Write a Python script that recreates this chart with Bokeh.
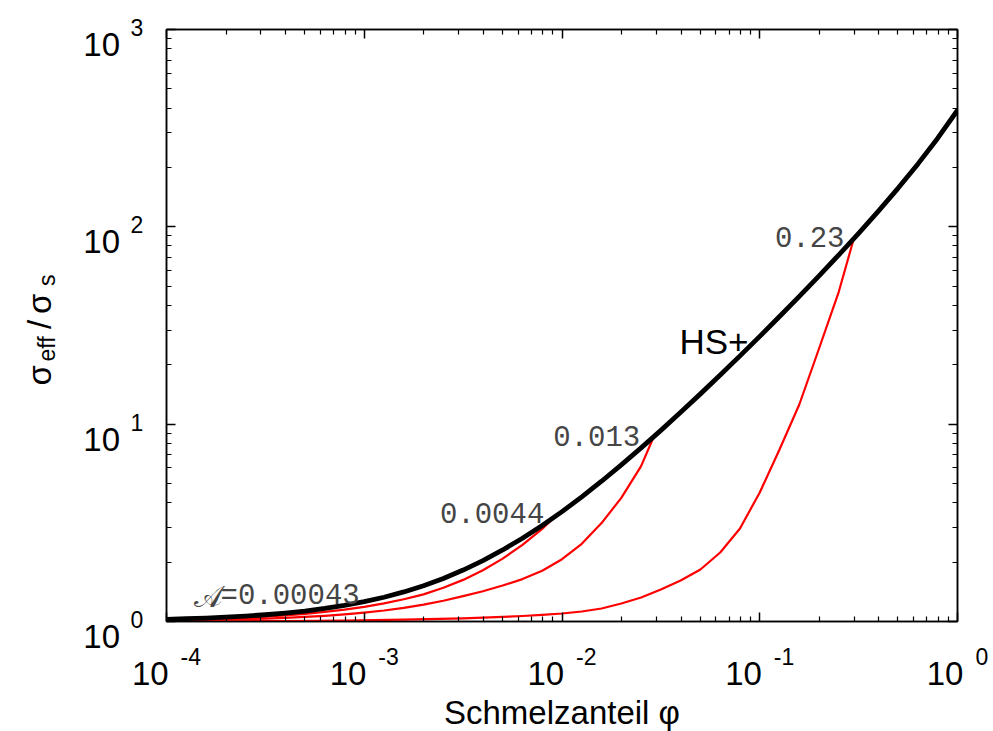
import math

from bokeh.plotting import figure
from bokeh.models import Range1d, LogAxis, FixedTicker, CustomJSTickFormatter, ColumnDataSource
from bokeh.core.properties import value
from bokeh.embed import file_html
from bokeh.resources import INLINE

# Hashin-Shtrikman upper bound (HS+): sigma_eff / sigma_s versus melt fraction phi
phi_hs = [1.0e-4, 1.259e-4, 1.585e-4, 1.995e-4, 2.512e-4, 3.162e-4, 3.981e-4, 5.012e-4, 6.310e-4, 7.943e-4,
          1.0e-3, 1.259e-3, 1.585e-3, 1.995e-3, 2.512e-3, 3.162e-3, 3.981e-3, 5.012e-3, 6.310e-3, 7.943e-3,
          1.0e-2, 1.259e-2, 1.585e-2, 1.995e-2, 2.512e-2, 3.162e-2, 3.981e-2, 5.012e-2, 6.310e-2, 7.943e-2,
          0.1, 0.1259, 0.1585, 0.1995, 0.2512, 0.3162, 0.3981, 0.5012, 0.6310, 0.7943, 1.0]
sigma_hs = [1.026, 1.033, 1.041, 1.052, 1.065, 1.082, 1.103, 1.130, 1.164, 1.206,
            1.260, 1.327, 1.412, 1.518, 1.653, 1.822, 2.035, 2.304, 2.642, 3.068,
            3.605, 4.283, 5.138, 6.215, 7.578, 9.298, 11.48, 14.24, 17.74, 22.19,
            27.86, 35.12, 44.45, 56.48, 72.17, 92.75, 120.1, 157.2, 208.4, 281.3, 390.0]

# curve for A = 0.0044, ending on HS+
phi_a2 = [1.0e-4, 1.259e-4, 1.585e-4, 1.995e-4, 2.512e-4, 3.162e-4, 3.981e-4, 5.012e-4, 6.310e-4, 7.943e-4,
          1.0e-3, 1.259e-3, 1.585e-3, 1.995e-3, 2.512e-3, 3.162e-3, 3.981e-3, 5.012e-3, 6.310e-3, 7.943e-3,
          9.1e-3]
sigma_a2 = [1.019, 1.024, 1.030, 1.037, 1.047, 1.059, 1.074, 1.094, 1.118, 1.148,
            1.187, 1.235, 1.297, 1.373, 1.483, 1.625, 1.818, 2.082, 2.445, 2.944,
            3.370]

# curve for A = 0.013
phi_a3 = [1.0e-4, 1.259e-4, 1.585e-4, 1.995e-4, 2.512e-4, 3.162e-4, 3.981e-4, 5.012e-4, 6.310e-4, 7.943e-4,
          1.0e-3, 1.259e-3, 1.585e-3, 1.995e-3, 2.512e-3, 3.162e-3, 3.981e-3, 5.012e-3, 6.310e-3, 7.943e-3,
          1.0e-2, 1.259e-2, 1.585e-2, 1.995e-2, 2.512e-2, 2.91e-2]
sigma_a3 = [1.011, 1.014, 1.017, 1.022, 1.027, 1.034, 1.043, 1.055, 1.069, 1.087,
            1.109, 1.137, 1.173, 1.218, 1.274, 1.345, 1.424, 1.522, 1.640, 1.807,
            2.068, 2.477, 3.152, 4.233, 6.131, 8.630]

# curve for A = 0.23
phi_a4 = [1.0e-4, 1.995e-4, 3.981e-4, 7.943e-4, 1.585e-3, 3.162e-3, 5.012e-3, 6.310e-3, 7.943e-3,
          1.0e-2, 1.259e-2, 1.585e-2, 1.995e-2, 2.512e-2, 3.162e-2, 3.981e-2, 5.012e-2, 6.310e-2, 7.943e-2,
          0.1, 0.1259, 0.1585, 0.1995, 0.2512, 0.299]
sigma_a4 = [1.001, 1.003, 1.006, 1.012, 1.022, 1.038, 1.055, 1.066, 1.080,
            1.098, 1.124, 1.164, 1.234, 1.323, 1.453, 1.614, 1.834, 2.237, 2.961,
            4.506, 7.44, 12.58, 24.18, 47.0, 87.21]

curve_names = ["0.00043", "0.0044", "0.013", "0.23"]
x_exponents = [-4, -3, -2, -1, 0]
y_exponents = [0, 1, 2, 3]

SANS = "Liberation Sans"
MONO = "Liberation Mono"
BASE = 33      # px, mantissa "10" of tick labels
EXP = 23       # px, exponents
RED = "#ff0000"
GREY = "#454545"

W, H = 993, 731
FL, FR, FT, FB = 166, 957, 29, 621

p = figure(width=W, height=H, x_axis_type="log", y_axis_type="log",
           x_range=Range1d(1e-4, 1.0), y_range=Range1d(1.0, 1000.0),
           output_backend="svg", toolbar_location=None,
           min_border_left=FL, min_border_right=W - FR, min_border_top=FT, min_border_bottom=H - FB,
           background_fill_color="white", border_fill_color="white")
p.xgrid.visible = False
p.ygrid.visible = False
p.outline_line_color = "black"
p.outline_line_width = 1.5

p.add_layout(LogAxis(), "above")
p.add_layout(LogAxis(), "right")

x_major = [10.0 ** e for e in x_exponents]
x_minor = [m * 10.0 ** e for e in x_exponents[:-1] for m in range(2, 10)]
y_major = [10.0 ** e for e in y_exponents]
y_minor = [m * 10.0 ** e for e in y_exponents[:-1] for m in range(2, 10)]

for ax in p.xaxis:
    ax.ticker = FixedTicker(ticks=x_major, minor_ticks=x_minor)
for ax in p.yaxis:
    ax.ticker = FixedTicker(ticks=y_major, minor_ticks=y_minor)
for ax in list(p.xaxis) + list(p.yaxis):
    ax.formatter = CustomJSTickFormatter(code="return ''")
    ax.major_label_standoff = 0
    ax.axis_line_color = "black"
    ax.axis_line_width = 1.5
    ax.major_tick_in = 9
    ax.major_tick_out = 0
    ax.minor_tick_in = 5
    ax.minor_tick_out = 0
    ax.major_tick_line_color = "black"
    ax.minor_tick_line_color = "black"
    ax.major_tick_line_width = 1.5
    ax.minor_tick_line_width = 1.2

# red curves below, HS+ bound on top
for xs, ys in [(phi_a2, sigma_a2), (phi_a3, sigma_a3), (phi_a4, sigma_a4)]:
    p.line(xs, ys, line_color=RED, line_width=2.2, line_join="round")
p.line(phi_hs, sigma_hs, line_color="black", line_width=4.8, line_join="round", line_cap="round")


def put_text(xs, ys, texts, dx, dy, size, font=SANS, color="black", align="left", angle=0.0):
    # text drawn at overlay level so that labels outside the frame stay visible
    src = ColumnDataSource(dict(x=xs, y=ys, text=texts, dx=dx, dy=dy))
    p.text(x="x", y="y", text="text", x_offset="dx", y_offset="dy", source=src,
           text_font=value(font), text_font_size=value(size), text_color=color,
           text_align=align, text_baseline="alphabetic", angle=angle, level="overlay")


# x tick labels: "10" with raised exponent, the pair centred on the tick
w10 = 1.112 * BASE
gap = 12
ends = []
for e in x_exponents:
    w_exp = sum(0.333 if ch == "-" else 0.556 for ch in str(e)) * EXP
    ends.append((w10 - gap - w_exp) / 2)
put_text(x_major, [1.0] * len(x_major), ["10"] * len(x_major), ends, [52] * len(x_major),
         f"{BASE}px", align="right")
put_text(x_major, [1.0] * len(x_major), [str(e) for e in x_exponents], [d + gap for d in ends],
         [35] * len(x_major), f"{EXP}px")

# y tick labels
ny = len(y_major)
put_text([1e-4] * ny, y_major, ["10"] * ny, [-46.5] * ny, [15] * ny, f"{BASE}px", align="right")
put_text([1e-4] * ny, y_major, [str(e) for e in y_exponents], [-36] * ny, [-2] * ny, f"{EXP}px")

# axis titles
put_text([1e-2], [1.0], ["Schmelzanteil \u03c6"], [0], [91], "33px", align="center")

ROT = math.pi / 2
put_text([1e-4] * 3, [1.0] * 3, ["\u03c3", "/", "\u03c3"], [-127.5] * 3, [-236, -292.5, -307.5],
         f"{BASE}px", angle=ROT)
put_text([1e-4] * 2, [1.0] * 2, ["eff", "s"], [-119.5] * 2, [-260, -335.5], f"{EXP}px", angle=ROT)

# curve annotations inside the frame
put_text([1.919e-4], [1.336], ["\U0001D49C"], [0], [0], "30px", font="DejaVu Serif", color=GREY,
         align="right")
put_text([1.875e-4, 0.002413, 0.009027, 0.1193], [1.336, 3.533, 8.70, 88.4],
         ["=" + curve_names[0]] + curve_names[1:], [0] * 4, [0] * 4, "29px", font=MONO, color=GREY)
put_text([0.03928], [26.15], ["HS+"], [0], [0], "35px")

open("out.html", "w").write(file_html(p, INLINE))
